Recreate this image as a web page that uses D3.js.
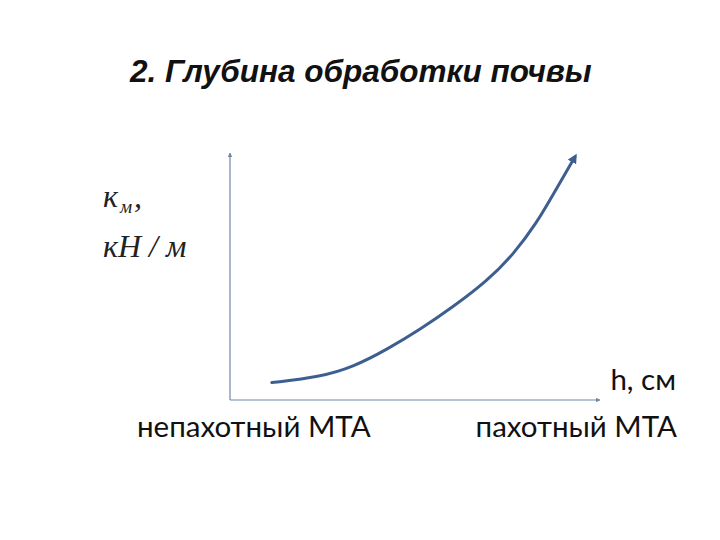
<!DOCTYPE html>
<html>
<head>
<meta charset="utf-8">
<script src="https://cdn.jsdelivr.net/npm/d3@7"></script>
<style>
  body { margin: 0; background: #fff; }
</style>
</head>
<body>
<svg class="d" width="720" height="540"></svg>
<script>
// depth h (relative units) vs. specific resistance k_m (relative units)
var hVals = [11.3, 24.3, 33.2, 42.4, 51.4, 60.3, 69.5, 76.5, 83.0, 87.3, 93.2];
var kVals = [7.1, 9.4, 13.4, 20.6, 28.8, 38.0, 48.6, 59.2, 72.5, 83.8, 99.2];
var titleText = "2. Глубина обработки почвы";
var xLabels = ["непахотный МТА", "пахотный МТА"];
var xAxisName = "h, см";

var svg = d3.select("svg.d");

var x = d3.scaleLinear().domain([0, 100]).range([230, 600]);
var y = d3.scaleLinear().domain([0, 100]).range([400, 155]);

var defs = svg.append("defs");
defs.append("marker").attr("id", "ax")
    .attr("viewBox", "0 0 10 10").attr("refX", 9).attr("refY", 5)
    .attr("markerWidth", 4).attr("markerHeight", 4).attr("orient", "auto")
  .append("path").attr("d", "M0,0L10,5L0,10z").attr("fill", "#6f87a8");
defs.append("marker").attr("id", "cv")
    .attr("viewBox", "0 0 10 10").attr("refX", 6).attr("refY", 5)
    .attr("markerWidth", 3.2).attr("markerHeight", 3.2).attr("orient", "auto")
  .append("path").attr("d", "M0,0L10,5L0,10z").attr("fill", "#3d5f8f");

svg.append("text")
    .attr("x", 130).attr("y", 82)
    .style("font-family", "'Liberation Sans', Arial, sans-serif")
    .style("font-size", "31.5px").style("font-weight", "bold").style("font-style", "italic")
    .attr("fill", "#111")
    .text(titleText);

// axes
svg.append("line")
    .attr("x1", x(0)).attr("y1", y(0)).attr("x2", x(0)).attr("y2", y(100) - 2)
    .attr("stroke", "#6f87a8").attr("stroke-width", 1.2).attr("marker-end", "url(#ax)");
svg.append("line")
    .attr("x1", x(0)).attr("y1", y(0)).attr("x2", x(100)).attr("y2", y(0))
    .attr("stroke", "#6f87a8").attr("stroke-width", 1.2).attr("marker-end", "url(#ax)");

var pts = hVals.map((h, i) => [h, kVals[i]]);
var line = d3.line().x(d => x(d[0])).y(d => y(d[1])).curve(d3.curveBasis);
svg.append("path")
    .datum(pts)
    .attr("d", line)
    .attr("fill", "none").attr("stroke", "#3d5f8f").attr("stroke-width", 3)
    .attr("stroke-linecap", "round")
    .attr("marker-end", "url(#cv)");

// y label
var yl = svg.append("g")
    .style("font-family", "'Liberation Serif', 'Times New Roman', serif")
    .style("font-style", "italic").attr("fill", "#222");
var t1 = yl.append("text").attr("x", 103).attr("y", 207).style("font-size", "32px");
t1.append("tspan").text("к");
t1.append("tspan").attr("dx", 2).attr("dy", 6).style("font-size", "19px").text("м");
t1.append("tspan").attr("dx", 2).attr("dy", -6).text(",");
yl.append("text").attr("x", 103).attr("y", 257).style("font-size", "32px").text("кН / м");

var lab = svg.append("g")
    .style("font-family", "Lato, 'Open Sans', sans-serif")
    .style("font-size", "29.5px").attr("fill", "#111");
lab.append("text").attr("x", 676).attr("y", 390).attr("text-anchor", "end").text(xAxisName);
lab.append("text").attr("x", 137).attr("y", 437).text(xLabels[0]);
lab.append("text").attr("x", 677).attr("y", 437).attr("text-anchor", "end").text(xLabels[1]);
</script>
</body>
</html>
